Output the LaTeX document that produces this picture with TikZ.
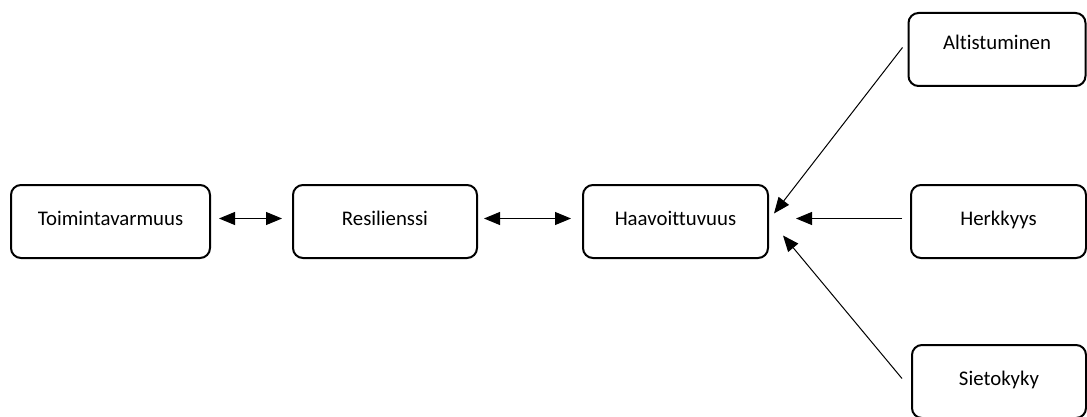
\documentclass[tikz,border=0pt]{standalone}
\usepackage{fontspec}
\setmainfont{Carlito}[Ligatures=NoCommon]
\usetikzlibrary{arrows.meta}

\begin{document}
\begin{tikzpicture}[x=1pt,y=-1pt,
  box/.style={draw, line width=2pt, rounded corners=10pt, fill=white,
    minimum height=73pt, inner sep=0pt, text depth=7pt,
    font=\fontsize{20.8}{24}\selectfont},
  tip/.tip={Triangle[length=16pt,width=13pt]},
  link/.style={line width=1pt, -tip},
  biglink/.style={line width=1pt, tip-tip}]
  \useasboundingbox (0,0) rectangle (1087,417);

  % main chain
  \node[box, minimum width=199pt] (toim) at (110.5,221.5) {Toimintavarmuus};
  \node[box, minimum width=184pt] (resi) at (385,221.5) {Resilienssi};
  \node[box, minimum width=185pt] (haav) at (675.5,221.5) {Haavoittuvuus};

  % contributing factors
  \node[box, minimum width=177pt, text depth=14pt] (alti) at (997,49.5) {Altistuminen};
  \node[box, minimum width=175pt] (herk) at (998.5,221.5) {Herkkyys};
  \node[box, minimum width=174pt] (siet) at (999,381.5) {Sietokyky};

  % two-way links along the chain
  \draw[biglink] ([xshift=8pt,yshift=3pt]toim.east) -- ([xshift=-10pt,yshift=3pt]resi.west);
  \draw[biglink] ([xshift=6pt,yshift=3pt]resi.east) -- ([xshift=-11pt,yshift=3pt]haav.west);

  % factors pointing to vulnerability
  \draw[link] ([xshift=-5pt,yshift=2pt]alti.west) -- ([xshift=5pt,yshift=8pt]haav.east);
  \draw[link] ([xshift=-8pt,yshift=3pt]herk.west) -- ([xshift=27pt,yshift=3pt]haav.east);
  \draw[link] ([xshift=-9pt,yshift=3pt]siet.west) -- ([xshift=14pt,yshift=-14pt]haav.east);
\end{tikzpicture}
\end{document}
